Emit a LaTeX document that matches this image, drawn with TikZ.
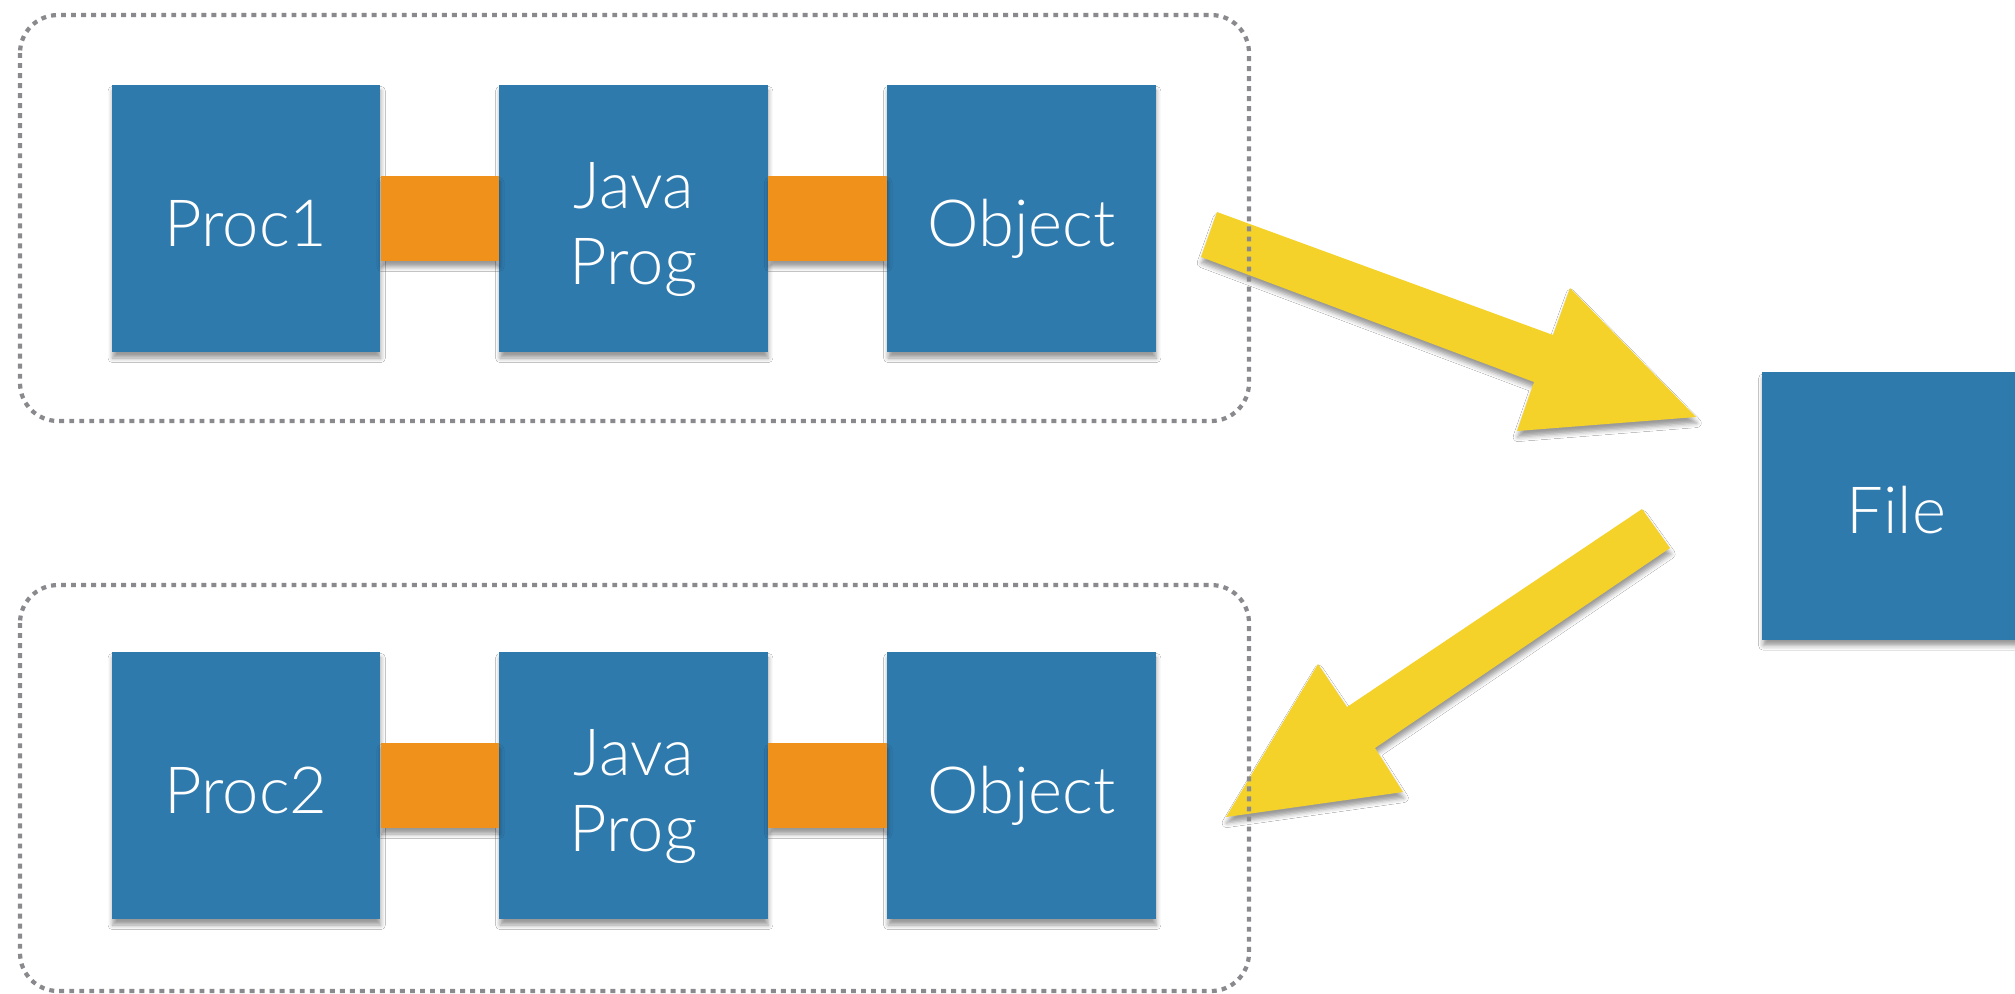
\documentclass[tikz,border=0pt]{standalone}
\usepackage{fontspec}
\setsansfont{Lato Light}
\usetikzlibrary{shadows.blur,calc}
\definecolor{boxblue}{RGB}{47,122,173}
\definecolor{linkorange}{RGB}{240,145,28}
\definecolor{flowyellow}{RGB}{244,210,42}
\definecolor{groupgray}{RGB}{138,138,142}
% label text, set a little low in its box (box size kept)
\newcommand\boxlabel[1]{\raisebox{-3.6pt}[\height][\depth]{\begin{tabular}{@{}c@{}}#1\end{tabular}}}
\tikzset{
  boxshadow/.style={blur shadow={shadow xshift=0.2pt, shadow yshift=-1.7pt,
      shadow blur radius=1.3pt, shadow opacity=40}},
  procbox/.style={fill=boxblue, minimum width=2.68cm, minimum height=2.67cm,
      inner sep=0pt, text=white, boxshadow,
      font=\sffamily\fontsize{18.5}{21.5}\selectfont},
  link/.style={fill=linkorange, boxshadow},
  flow/.style={fill=flowyellow, boxshadow},
  groupbox/.style={draw=groupgray, line width=1.2pt,
      dash pattern=on 1.4pt off 1.45pt, rounded corners=0.38cm},
}
\begin{document}
\begin{tikzpicture}[x=0.01cm, y=-0.01cm]
\fill[white] (0,0) rectangle (2015,993);
\useasboundingbox (0,0) rectangle (2015,993);

% first process
\node[procbox] (p1) at (246,218.5) {\boxlabel{Proc1}};
\node[procbox] (j1) at (633.5,218.5) {\boxlabel{Java\\Prog}};
\node[procbox] (o1) at (1021.5,218.5) {\boxlabel{Object}};

% second process
\node[procbox] (p2) at (246,785.5) {\boxlabel{Proc2}};
\node[procbox] (j2) at (633.5,785.5) {\boxlabel{Java\\Prog}};
\node[procbox] (o2) at (1021.5,785.5) {\boxlabel{Object}};

% shared file
\node[procbox] (file) at (1896.5,506) {\boxlabel{File}};

% bars joining the boxes of each process
\fill[link] ($(p1.east)+(0,-42.5)$) rectangle ($(j1.west)+(0,42.5)$);
\fill[link] ($(j1.east)+(0,-42.5)$) rectangle ($(o1.west)+(0,42.5)$);
\fill[link] ($(p2.east)+(0,-42.5)$) rectangle ($(j2.west)+(0,42.5)$);
\fill[link] ($(j2.east)+(0,-42.5)$) rectangle ($(o2.west)+(0,42.5)$);

% object written out to the file
\fill[flow] (1217,212) -- (1553,335) -- (1570,288) -- (1696,417)
  -- (1517,431) -- (1534,382) -- (1201,257) -- cycle;

% object read back from the file
\fill[flow] (1642,509) -- (1347,707) -- (1318,664) -- (1226,817)
  -- (1403,792) -- (1375,748) -- (1670,548) -- cycle;

% process groups
\draw[groupbox] (20,15) rectangle (1249,421);
\draw[groupbox] (20,585) rectangle (1249,991);
\end{tikzpicture}
\end{document}
